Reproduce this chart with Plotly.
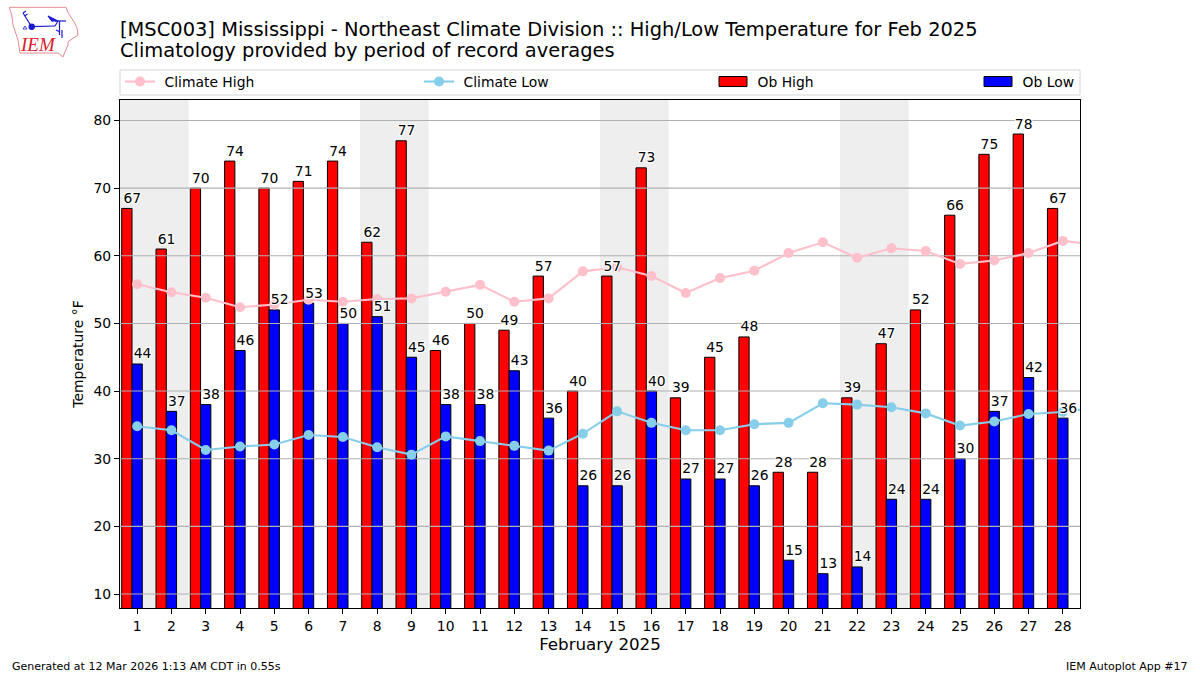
import base64
import plotly.graph_objects as go

days = list(range(1, 30))
bar_days = days[:28]
ob_high = [67,61,70,74,70,71,74,62,77,46,50,49,57,40,57,73,39,45,48,28,28,39,47,52,66,75,78,67]
ob_low = [44,37,38,46,52,53,50,51,45,38,38,43,36,26,26,40,27,27,26,15,13,14,24,24,30,37,42,36]
climate_high = [55.8,54.6,53.8,52.4,52.8,53.5,53.2,53.6,53.7,54.7,55.7,53.2,53.7,57.7,58.3,57.0,54.5,56.7,57.8,60.4,62.0,59.7,61.1,60.7,58.8,59.3,60.4,62.2,61.6]
climate_low = [34.8,34.2,31.3,31.8,32.1,33.5,33.2,31.7,30.6,33.3,32.6,31.9,31.2,33.7,37.0,35.3,34.2,34.2,35.1,35.3,38.2,38.0,37.6,36.7,34.9,35.5,36.6,36.9,37.6]
y_ticks = [10,20,30,40,50,60,70,80]
weekends = [(0.5,2.5),(7.5,9.5),(14.5,16.5),(21.5,23.5)]
title_1 = "[MSC003] Mississippi - Northeast Climate Division :: High/Low Temperature for Feb 2025"
title_2 = "Climatology provided by period of record averages"
footer_left = "Generated at 12 Mar 2026 1:13 AM CDT in 0.55s"
footer_right = "IEM Autoplot App #17"

FONT = "DejaVu Sans"
X0, X1 = 120, 1080
Y0, Y1 = 100, 608
def px(x): return (x - X0) / (X1 - X0)
def py(y): return (Y1 - y) / (Y1 - Y0)

LABEL_DX = 0.05   # label offset from the bar's left edge, in day units
LABEL_DY = 0.3    # label offset above the bar's top, in degrees

halo = ",".join(f"{a}px {b}px 0 white" for a in (-1,0,1) for b in (-1,0,1))
fig = go.Figure()
gx, gy = [], []
for t in y_ticks:
    gx += [0.5, 28.5, None]; gy += [t, t, None]
fig.add_trace(go.Scatter(x=gx, y=gy, mode="lines", line=dict(color="#b0b0b0", width=1.1), showlegend=False, hoverinfo="skip"))
fig.add_trace(go.Scatter(x=days, y=climate_high, name="Climate High", mode="lines+markers",
                         line=dict(color="pink", width=2.1), marker=dict(color="pink", size=10)))
fig.add_trace(go.Scatter(x=days, y=climate_low, name="Climate Low", mode="lines+markers",
                         line=dict(color="skyblue", width=2.1), marker=dict(color="skyblue", size=10)))
fig.add_trace(go.Bar(x=bar_days, y=ob_high, name="Ob High", width=0.3, offset=-0.45,
                     marker=dict(color="red", line=dict(color="black", width=1))))
fig.add_trace(go.Bar(x=bar_days, y=ob_low, name="Ob Low", width=0.3, offset=-0.15,
                     marker=dict(color="blue", line=dict(color="black", width=1))))
fig.add_trace(go.Scatter(x=[d-0.45+LABEL_DX for d in bar_days]+[d-0.15+LABEL_DX for d in bar_days],
                         y=[v+LABEL_DY for v in ob_high+ob_low],
                         text=[str(v) for v in ob_high+ob_low], mode="text", textposition="top right",
                         textfont=dict(family=FONT, size=13.9, color="black", shadow=halo),
                         cliponaxis=False, showlegend=False, hoverinfo="skip"))

shapes = [dict(type="rect", xref="x", yref="y domain", x0=a, x1=b, y0=0, y1=1,
               fillcolor="#eeeeee", line_width=0, layer="below") for a, b in weekends]
shapes.append(dict(type="rect", xref="paper", yref="paper", x0=0, x1=1, y0=py(95), y1=py(70),
                   line=dict(color="#d5d5d5", width=1), fillcolor="white", layer="below"))

logo = """<svg xmlns='http://www.w3.org/2000/svg' viewBox='0 0 90 65'>
<polygon points='9.3,7.3 66,7.3 68,12.7 74,21.7 77,28 78,35 68,41.7 68,45 65,51.7 63,57 58,53 20,53 18,40 13,25 11.7,15' fill='white' stroke='#e58a90' stroke-width='1'/>
<g stroke='#1a1ad0' fill='#1a1ad0' stroke-width='1.2'>
<circle cx='31.7' cy='26.7' r='2.6'/><line x1='31.7' y1='26.7' x2='55' y2='26'/><line x1='55' y1='26' x2='58' y2='21'/>
<polygon points='48,16 57,20.5 52,21'/><line x1='55' y1='21' x2='66' y2='21'/><line x1='59.5' y1='21' x2='59.5' y2='35'/>
<line x1='56' y1='30' x2='60' y2='32'/><line x1='62' y1='30' x2='62' y2='38'/>
<line x1='31.7' y1='26.7' x2='23' y2='13'/><line x1='23' y1='13' x2='26' y2='11'/><line x1='24.5' y1='16' x2='27.5' y2='14'/>
<polygon points='25,26 23,29 27,29' fill='none' stroke-width='.8'/></g></svg>"""
src = "data:image/svg+xml;base64," + base64.b64encode(logo.encode()).decode()

def note(text, x, y, size, xanchor="left", yanchor="middle", **kw):
    return dict(text=text, xref="paper", yref="paper", x=px(x), y=py(y), showarrow=False,
                xanchor=xanchor, yanchor=yanchor, font=dict(family=kw.pop("family", FONT), size=size, color=kw.pop("color", "black")), **kw)

annotations = [
    note(title_2, 118, 51, 19.45),
    note(footer_left, 10, 666, 11),
    note(footer_right, 1190, 666, 11, xanchor="right"),
    note("<i>IEM</i>", 37.5, 45, 19, xanchor="center", family="Liberation Serif", color="#d8202a"),
]

axis = dict(showgrid=False, zeroline=False, showline=True, mirror=True, linecolor="black", linewidth=1,
            ticks="outside", ticklen=5, tickwidth=1, tickcolor="black",
            tickfont=dict(family=FONT, size=13.9, color="black"))
fig.update_layout(
    width=1200, height=675, margin=dict(l=X0, r=1200-X1, t=Y0, b=675-Y1, pad=0, autoexpand=False),
    paper_bgcolor="white", plot_bgcolor="white", barmode="overlay", showlegend=True,
    font=dict(family=FONT, color="black"),
    title=dict(text=title_1, x=px(120), xref="paper", xanchor="left", y=1-29/675, yref="container", yanchor="middle",
               font=dict(family=FONT, size=19.45, color="black")),
    xaxis=dict(range=[0.5, 28.5], tickmode="array", tickvals=bar_days, ticktext=[str(d) for d in bar_days],
               title=dict(text="February 2025", standoff=5, font=dict(family=FONT, size=16.7, color="black")), **axis),
    yaxis=dict(range=[7.93, 83.03], tickmode="array", tickvals=y_ticks, ticktext=[str(t) for t in y_ticks],
               title=dict(text="Temperature °F", standoff=6, font=dict(family=FONT, size=13.9, color="black")), **axis),
    legend=dict(orientation="h", x=0, xanchor="left", y=py(66), yanchor="top", bgcolor="rgba(0,0,0,0)", borderwidth=0,
                entrywidth=188, entrywidthmode="pixels", itemwidth=30, font=dict(family=FONT, size=13.9, color="black"),
                traceorder="normal", itemclick=False),
    shapes=shapes, annotations=annotations,
    images=[dict(source=src, xref="paper", yref="paper", x=px(0), y=py(0), sizex=90/960, sizey=65/508,
                 xanchor="left", yanchor="top", sizing="stretch", layer="above")],
)

post = """
document.body.style.margin = '0';
document.querySelectorAll('.legend .scrollbox').forEach(function (s) { s.removeAttribute('clip-path'); s.style.clipPath = 'none'; });
var entryX = [0, 299, 593, 858];
document.querySelectorAll('.legend .traces').forEach(function (g, i) {
  var m = /translate\\(([^,]+),\\s*([^)]+)\\)/.exec(g.getAttribute('transform'));
  g.setAttribute('transform', 'translate(' + entryX[i] + ',' + m[2] + ')');
  var t = g.querySelector('.legendtext');
  if (t) { t.setAttribute('x', 44.5); t.querySelectorAll('tspan').forEach(function (s) { s.setAttribute('x', 44.5); }); }
  if (i >= 2) {
    g.querySelectorAll('.legendpoints path').forEach(function (b) { b.setAttribute('d', 'M14,5H-14V-5H14Z'); });
  }
});
"""
fig.write_html("out.html", post_script=post, config=dict(displayModeBar=False))
